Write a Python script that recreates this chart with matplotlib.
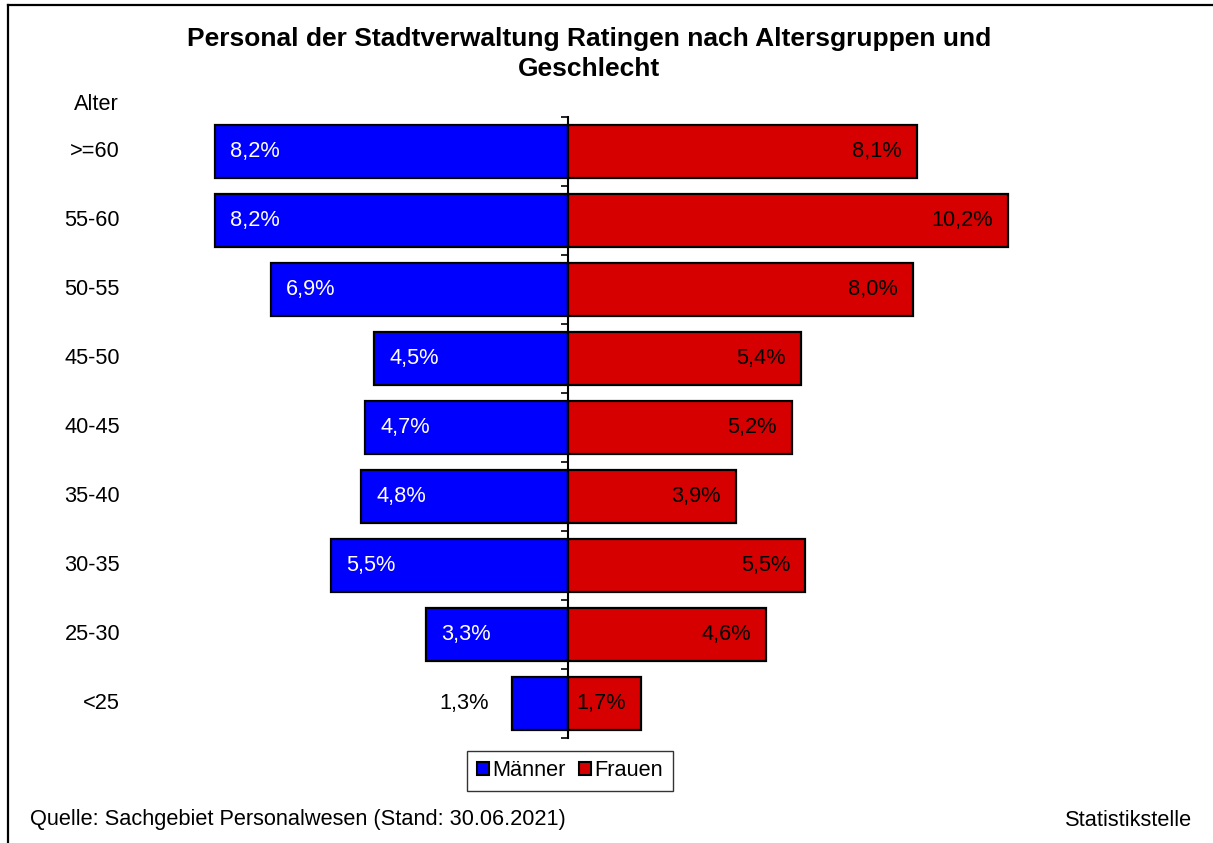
import numpy as np
import matplotlib
matplotlib.use("Agg")
import matplotlib.pyplot as plt
from matplotlib.lines import Line2D
from matplotlib.patches import Patch
from matplotlib.transforms import blended_transform_factory

plt.rcParams['font.family'] = ['Liberation Sans', 'DejaVu Sans']

# Data (share of staff in %)
age_groups = [">=60", "55-60", "50-55", "45-50", "40-45", "35-40", "30-35", "25-30", "<25"]
men = [8.2, 8.2, 6.9, 4.5, 4.7, 4.8, 5.5, 3.3, 1.3]
women = [8.1, 10.2, 8.0, 5.4, 5.2, 3.9, 5.5, 4.6, 1.7]

W, H = 1213, 843
fig = plt.figure(figsize=(W / 100, H / 100), dpi=100)
fs = 15.7

# axes placed in pixel terms: centre line at x=568, ~43 px per percent
left_px, right_px, top_px, bot_px = 150, 1100, 117, 738
ax = fig.add_axes([left_px / W, 1 - bot_px / H, (right_px - left_px) / W, (bot_px - top_px) / H])
scale = 43.1
ax.set_xlim(-(568 - left_px) / scale, (right_px - 568) / scale)
ax.set_ylim(len(age_groups) - 0.5, -0.5)

y = np.arange(len(age_groups))
blue = "#0000FF"
red = "#D60000"
ax.barh(y, [-m for m in men], height=0.77, color=blue, edgecolor="black", linewidth=1.6, zorder=2)
ax.barh(y, women, height=0.77, color=red, edgecolor="black", linewidth=1.6, zorder=2)

# centre axis with little ticks between groups
for s in ["top", "right", "bottom"]:
    ax.spines[s].set_visible(False)
ax.spines["left"].set_position(("data", 0))
ax.spines["left"].set_linewidth(1.5)
ax.spines["left"].set_zorder(3)
ax.set_yticks(np.arange(-0.5, len(age_groups)))
ax.set_yticklabels([])
ax.tick_params(axis="y", length=5, width=1.2, direction="out")
ax.set_xticks([])

fmt = lambda v: f"{v:.1f}%".replace(".", ",")
off = 15 / scale
for i, (m, w) in enumerate(zip(men, women)):
    if m > 2:
        ax.text(-m + off, i, fmt(m), color="white", fontsize=fs, va="center", ha="left", zorder=4)
    else:
        ax.text(-m - 23 / scale, i, fmt(m), color="black", fontsize=fs, va="center", ha="right", zorder=4)
    ax.text(w - off, i, fmt(w), color="black", fontsize=fs, va="center", ha="right", zorder=4)

# category labels on the far left
trans = blended_transform_factory(fig.transFigure, ax.transData)
for i, g in enumerate(age_groups):
    ax.text(120 / W, i, g, transform=trans, ha="right", va="center", fontsize=fs)
fig.text(74 / W, 1 - 104 / H, "Alter", ha="left", va="center", fontsize=fs)

fig.text(589 / W, 1 - 54 / H, "Personal der Stadtverwaltung Ratingen nach Altersgruppen und\nGeschlecht",
         ha="center", va="center", fontsize=19, fontweight="bold", linespacing=1.3)

handles = [Patch(facecolor=blue, edgecolor="black", linewidth=1.5),
           Patch(facecolor=red, edgecolor="black", linewidth=1.5)]
leg = fig.legend(handles, ["Männer", "Frauen"], loc="center", bbox_to_anchor=(570 / W, 1 - 771 / H),
                 ncol=2, fontsize=fs, frameon=True, fancybox=False, handlelength=0.55, handleheight=0.55,
                 handletextpad=0.15, columnspacing=0.6, borderpad=0.45, borderaxespad=0)
leg.get_frame().set_edgecolor("black")
leg.get_frame().set_linewidth(1.0)

fig.text(30 / W, 1 - 820 / H, "Quelle: Sachgebiet Personalwesen (Stand: 30.06.2021)", ha="left", va="center", fontsize=fs)
fig.text(1192 / W, 1 - 820 / H, "Statistikstelle", ha="right", va="center", fontsize=fs)

# outer frame (left and top edges visible)
fig.add_artist(Line2D([8 / W, 8 / W], [0, 1 - 5 / H], transform=fig.transFigure, color="black", linewidth=1.6))
fig.add_artist(Line2D([8 / W, 1], [1 - 5 / H, 1 - 5 / H], transform=fig.transFigure, color="black", linewidth=1.6))

fig.savefig("out.png", dpi=100)
